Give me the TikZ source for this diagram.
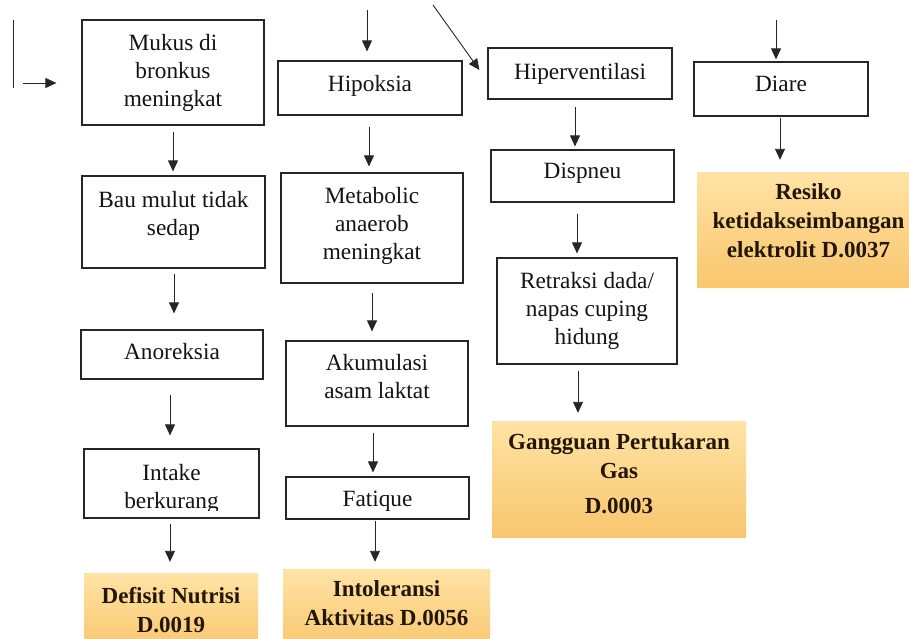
\documentclass[tikz,border=0pt]{standalone}
\usepackage{fontspec}
\setmainfont{Liberation Serif}
\usetikzlibrary{arrows.meta,calc}
\definecolor{orTop}{RGB}{255,227,165}
\definecolor{orBot}{RGB}{249,198,110}
\definecolor{txtDark}{RGB}{35,22,5}
\tikzset{
  box/.style={draw=black!85, line width=1.2pt, fill=white, inner sep=0pt},
  boxtext/.style={align=center, inner sep=0pt, font=\fontsize{23.3}{28}\selectfont, text=black!92},
  hasil/.style={draw=none, top color=orTop, bottom color=orBot, inner sep=0pt},
  hasiltext/.style={align=center, inner sep=0pt, font=\fontsize{23}{29}\selectfont\bfseries, text=txtDark},
  arr/.style={line width=0.9pt, draw=black!85, -{Triangle[length=11pt,width=10pt]}},
  plainline/.style={line width=0.9pt, draw=black!85},
}
% #1 style, #2 name, #3-#6 corners, #7 text, #8 upward shift
\newcommand{\mkbox}[8]{%
  \node[#1, minimum width={(#5)-(#3)}, minimum height={(#6)-(#4)},
        label={[#1text, yshift=#8pt]center:{#7}}]
        (#2) at ({((#3)+(#5))/2},{((#4)+(#6))/2}) {};}
\newcommand{\varr}[5]{%
  \path (#1.south) ++(#5,0) coordinate (tmpA);
  \draw[arr, shorten <=#3pt, shorten >=#4pt] (tmpA) -- (tmpA |- #2.north);}
\begin{document}
\begin{tikzpicture}[x=1pt,y=-1pt]
\clip (0,0) rectangle (909,638);
\fill[white] (0,0) rectangle (909,638);

% column 1
\mkbox{box}{mukus}{82}{20}{264}{125}{Mukus di\\bronkus\\meningkat}{0}
\mkbox{box}{bau}{82}{176}{265}{268}{Bau mulut tidak\\sedap}{6}
\mkbox{box}{anor}{81}{330}{263}{379}{Anoreksia}{3}
\node[box, minimum width=175, minimum height=69] (intake) at (171.5,483.5) {};
\begin{scope}
  \clip (85,450) rectangle (258,510);
  \node[boxtext] (intaketext) at (171.5,488.5) {Intake\\berkurang};
\end{scope}
\mkbox{hasil}{defisit}{84}{573}{258}{652}{Defisit Nutrisi\\D.0019}{2.5}

% column 2
\mkbox{box}{hip}{278}{61}{462}{115}{Hipoksia}{2}
\mkbox{box}{metab}{281}{173}{463}{283}{Metabolic\\anaerob\\meningkat}{2}
\mkbox{box}{akum}{286}{341}{468}{426}{Akumulasi\\asam laktat}{7}
\mkbox{box}{fat}{286}{477}{469}{519}{Fatique}{-3.5}
\mkbox{hasil}{intol}{283}{569}{490}{652}{Intoleransi\\Aktivitas D.0056}{7.5}

% column 3
\mkbox{box}{hiper}{488}{48}{672}{99}{Hiperventilasi}{0}
\mkbox{box}{disp}{491}{150}{674}{202}{Dispneu}{3}
\mkbox{box}{retr}{497}{258}{677}{364}{Retraksi dada/\\napas cuping\\hidung}{0}
\mkbox{hasil}{gang}{492}{421}{746}{537}{Gangguan Pertukaran\\Gas\\[6pt]D.0003}{5}

% column 4
\mkbox{box}{diare}{694}{62}{868}{116}{Diare}{5}
\mkbox{hasil}{resiko}{697}{172}{920}{287}{Resiko\\ketidakseimbangan\\elektrolit D.0037}{9}

% free arrows
\coordinate (lt) at (13,20);
\coordinate (lb) at (13,88);
\draw[plainline] (lt) -- (lb);
\coordinate (la) at (23,83);
\draw[arr, shorten >=25pt] (la) -- (mukus.west |- la);
\coordinate (hsrc) at (367,10);
\draw[arr, shorten >=9pt] (hsrc) -- (hsrc |- hip.north);
\coordinate (dsrc) at (433,5);
\draw[arr] (dsrc) -- ($(hiper.west)+(-8,-3.5)$);
\coordinate (disrc) at (776,20);
\draw[arr, shorten >=2pt] (disrc) -- (disrc |- diare.north);

% connectors
\varr{mukus}{bau}{6}{4}{0}
\varr{bau}{anor}{5}{16}{0.5}
\varr{anor}{intake}{15}{13}{-2}
\varr{intake}{defisit}{5}{11}{-1.5}
\varr{hip}{metab}{11}{6}{-1}
\varr{metab}{akum}{9}{9}{0}
\varr{akum}{fat}{6}{4}{-4}
\varr{fat}{intol}{1}{7}{-2.5}
\varr{hiper}{disp}{7}{3}{-5}
\varr{disp}{retr}{11}{4}{-5.5}
\varr{retr}{gang}{6}{8}{-9}
\varr{diare}{resiko}{1}{12}{-1}
\end{tikzpicture}
\end{document}
